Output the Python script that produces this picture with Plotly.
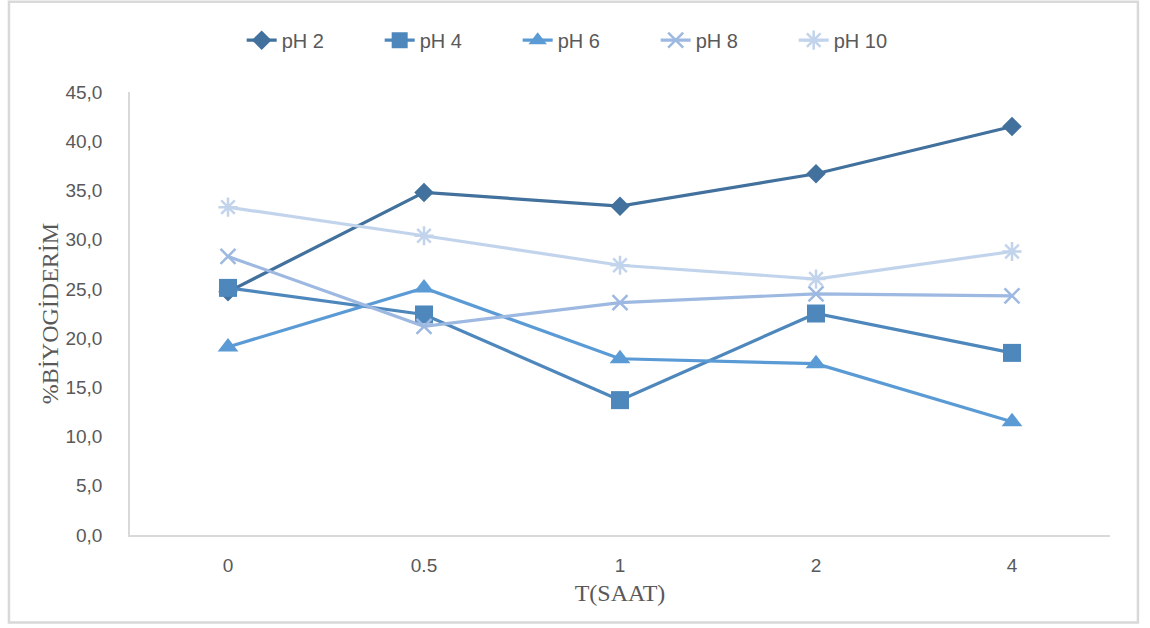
import plotly.graph_objects as go

# Sampling times (hours) and bio-removal percentages per pH
times = ["0", "0.5", "1", "2", "4"]
ph2 = [24.7, 34.8, 33.4, 36.7, 41.5]
ph4 = [25.1, 22.4, 13.7, 22.5, 18.5]
ph6 = [19.1, 25.1, 17.9, 17.4, 11.5]
ph8 = [28.3, 21.2, 23.6, 24.5, 24.3]
ph10 = [33.3, 30.4, 27.4, 26.0, 28.8]

series = [
    ("pH 2", ph2, "#41719C", "diamond", 15, 0),
    ("pH 4", ph4, "#4E87BC", "square", 18, 0),
    ("pH 6", ph6, "#5B9BD5", "triangle-up", 18, 0),
    ("pH 8", ph8, "#9DB9E1", "x-thin", 15, 2.5),
    ("pH 10", ph10, "#C2D4EC", "asterisk", 16, 2.5),
]

fig = go.Figure()
for name, vals, color, symbol, size, lw in series:
    fig.add_trace(go.Scatter(
        x=times, y=vals, name=name, mode="lines+markers",
        line=dict(color=color, width=3.2),
        marker=dict(symbol=symbol, size=size, color=color,
                    line=dict(color=color, width=lw)),
    ))

tick_font = dict(family="Liberation Sans, Arial, sans-serif", size=19, color="#595959")
title_font = dict(family="Liberation Serif, serif", size=24, color="#595959")

fig.update_layout(
    width=1150, height=628,
    margin=dict(l=130, r=40, t=92, b=93),
    paper_bgcolor="white", plot_bgcolor="white",
    separators=",.",
    showlegend=True,
    legend=dict(orientation="h", x=0.466, y=1.117, xanchor="center", yanchor="middle",
                font=dict(family="Liberation Sans, Arial, sans-serif", size=20, color="#595959"),
                entrywidth=93, entrywidthmode="pixels", tracegroupgap=0),
    xaxis=dict(type="category", showgrid=False, showline=True, linecolor="#d9d9d9", linewidth=1.5,
               ticks="", tickfont=tick_font, ticklabelstandoff=12,
               title=dict(text="T(SAAT)", font=title_font, standoff=10),
               range=[-0.5, 4.5], zeroline=False),
    yaxis=dict(range=[0, 45], dtick=5, tickformat=".1f", showgrid=False, showline=True,
               linecolor="#d9d9d9", linewidth=1.5, ticks="", tickfont=tick_font,
               ticklabelstandoff=22, zeroline=False,
               title=dict(text="%BİYOGİDERİM", font=title_font, standoff=0)),
    shapes=[dict(type="rect", xref="paper", yref="paper",
                 x0=-0.1235, x1=1.0285, y0=-0.1975, y1=1.204,
                 line=dict(color="#d9d9d9", width=2.5), layer="below")],
)

fig.write_html("out.html")
